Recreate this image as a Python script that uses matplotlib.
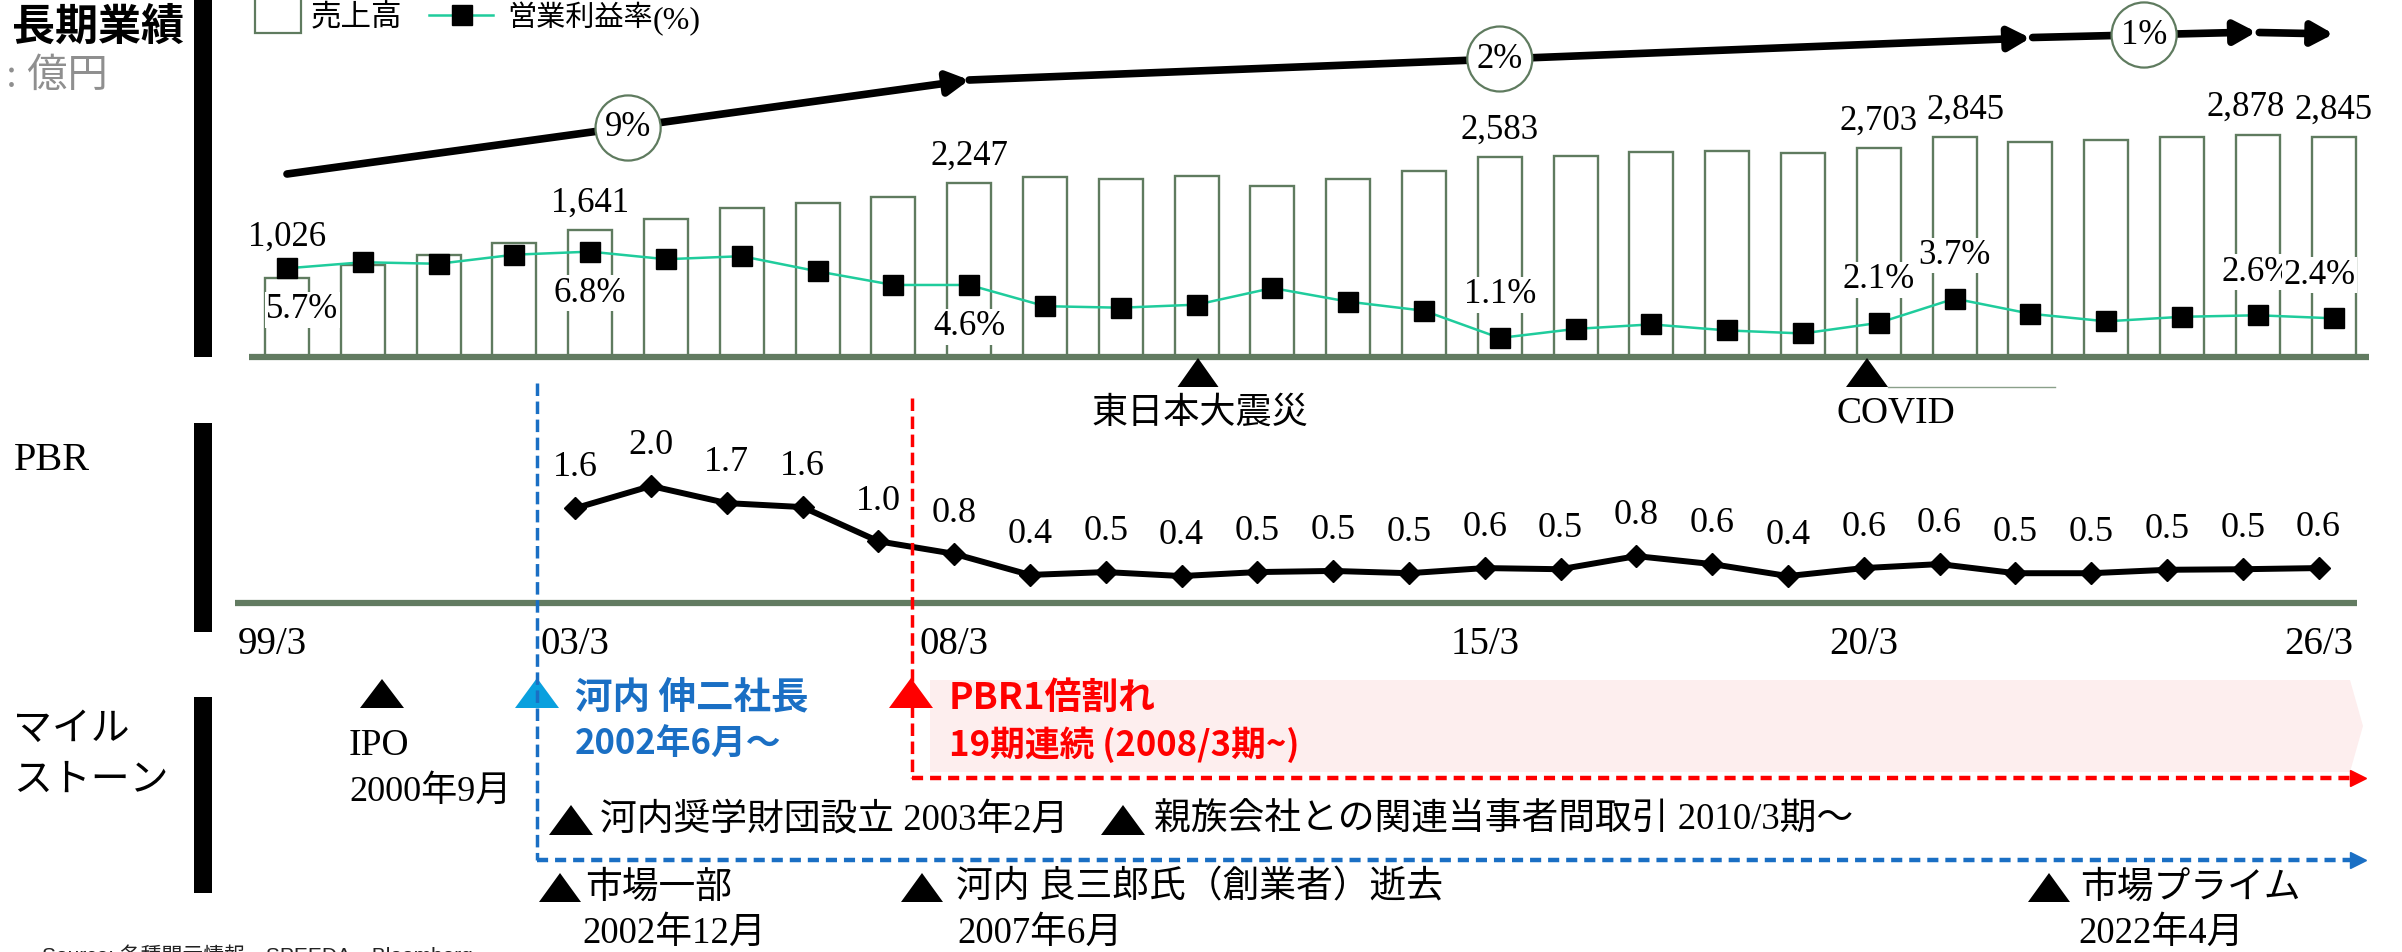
import matplotlib
matplotlib.use('Agg')
import matplotlib.pyplot as plt
from matplotlib.patches import Polygon, Rectangle
from matplotlib.transforms import blended_transform_factory
import numpy as np

plt.rcParams['lines.scale_dashes'] = False

# ---------------- data ----------------
years = list(range(1999, 2027))
sales = [1026, 1186, 1315, 1475, 1641, 1790, 1928, 1997, 2066, 2247,
         2325, 2307, 2338, 2213, 2299, 2407, 2583, 2596, 2652, 2670,
         2635, 2703, 2845, 2778, 2803, 2851, 2878, 2845]
margin = [5.7, 6.1, 6.0, 6.6, 6.8, 6.3, 6.5, 5.5, 4.6, 4.6,
          3.2, 3.1, 3.3, 4.4, 3.5, 2.9, 1.1, 1.7, 2.0, 1.6,
          1.4, 2.1, 3.7, 2.7, 2.2, 2.5, 2.6, 2.4]
sales_label_years = [1999, 2003, 2008, 2015, 2020, 2021, 2025, 2026]
margin_label_years = [1999, 2003, 2008, 2015, 2020, 2021, 2025, 2026]

pbr_years = list(range(2003, 2027))
pbr = [1.61, 2.0, 1.70, 1.63, 1.03, 0.81, 0.44, 0.49, 0.42, 0.49,
       0.51, 0.47, 0.56, 0.54, 0.77, 0.63, 0.42, 0.56, 0.63, 0.47,
       0.47, 0.53, 0.54, 0.56]

tick_years = [1999, 2003, 2008, 2015, 2020, 2026]
tick_labels = ['99/3', '03/3', '08/3', '15/3', '20/3', '26/3']

growth_labels = ['9%', '2%', '1%']

# ---------------- style ----------------
W, H = 2402, 952
SERIF = ['Liberation Serif', 'Noto Sans CJK JP']
CJK = ['Noto Sans CJK JP', 'DejaVu Sans']
SANS = ['Liberation Sans', 'Noto Sans CJK JP']
GREEN = '#627b61'
BAR_EDGE = '#5f7b5f'
TEAL = '#1fcc9c'
BLUE = '#1a6fc4'
BLUE_L = '#0aa0de'
RED = '#ff0000'

fig = plt.figure(figsize=(W / 100, H / 100), dpi=100)


def add_ax(x0, y0, x1, y1):
    a = fig.add_axes([x0 / W, 1 - y1 / H, (x1 - x0) / W, (y1 - y0) / H])
    a.axis('off')
    return a


# ---------------- top chart: sales bars + margin line ----------------
BAR_C0, STEP = 287, 75.8
ax = add_ax(249, 0, 2369, 357)
ax.set_xlim((249 - BAR_C0) / STEP, (2369 - BAR_C0) / STEP)
VAL_PER_PX = 12.94
ax.set_ylim(0, 357 * VAL_PER_PX)
xi = np.array(years) - years[0]
ax.bar(xi, sales, width=0.58, facecolor='white', edgecolor=BAR_EDGE, lw=1.7, zorder=1)
ax.plot([0, 1], [0, 0], transform=ax.transAxes, color=GREEN, lw=4.5,
        clip_on=False, zorder=3, solid_capstyle='butt')

sales_dx = {2021: 8, 2025: -9}
for yr in sales_label_years:
    i = years.index(yr)
    dy = 29 if yr == 1999 else 19.5
    ax.annotate(f'{sales[i]:,}', (xi[i], sales[i]), xytext=(sales_dx.get(yr, 0), dy),
                textcoords='offset points', ha='center', va='center',
                fontsize=25, family=SERIF, zorder=6)


def v(py):
    return (357 - py) * VAL_PER_PX


# growth arrows (decorative)
segs = [((0, 174), (9, 80)), ((9, 80), (23, 38)), ((23.03, 37.5), (25.98, 32)),
        ((26.02, 32.5), (27, 34))]
for (x0, y0), (x1, y1) in segs:
    ax.annotate('', xy=(x1, v(y1)), xytext=(x0, v(y0)),
                arrowprops=dict(arrowstyle='-|>,head_length=0.55,head_width=0.3',
                                lw=5.5, color='black', shrinkA=0, shrinkB=0,
                                mutation_scale=23), zorder=4)
for lab, (gx, gy) in zip(growth_labels, [(4.5, 128), (16, 59), (24.5, 35)]):
    ax.text(gx, v(gy), lab, ha='center', va='center', fontsize=25, family=SERIF,
            bbox=dict(boxstyle='circle,pad=0.27', fc='white', ec=BAR_EDGE, lw=1.6), zorder=5)

axm = ax.twinx()
axm.axis('off')
axm.set_ylim(-0.154, 23.41)
axm.plot(xi, margin, color=TEAL, lw=1.8, marker='s', ms=14, mfc='black', mec='black', zorder=3)
m_off = {1999: (11, -30), 2003: (0, -30), 2008: (0, -30), 2015: (0, 31),
         2020: (0, 31), 2021: (0, 31), 2025: (0, 31), 2026: (-10, 31)}
for yr in margin_label_years:
    i = years.index(yr)
    axm.annotate(f'{margin[i]:.1f}%', (xi[i], margin[i]), xytext=m_off[yr],
                 textcoords='offset points', ha='center', va='center',
                 fontsize=25, family=SERIF, zorder=6,
                 bbox=dict(fc='white', ec='none', pad=1))

# ---------------- PBR chart ----------------
PBR_C0 = 272
axp = add_ax(235, 380, 2357, 603)
axp.set_xlim((235 - PBR_C0) / STEP, (2357 - PBR_C0) / STEP)
axp.set_ylim(-3 / 57, 223 / 57 - 3 / 57)
axp.plot([0, 1], [0, 0], transform=axp.transAxes, color=GREEN, lw=4.5,
         clip_on=False, zorder=1, solid_capstyle='butt')
pxi = np.array(pbr_years) - years[0]
axp.plot(pxi, pbr, color='black', lw=4.3, marker='D', ms=11, zorder=3)
for xx, val in zip(pxi, pbr):
    axp.annotate(f'{val:.1f}', (xx, val), xytext=(0, 29), textcoords='offset points',
                 ha='center', va='center', fontsize=26, family=SERIF)
btr = blended_transform_factory(axp.transData, axp.transAxes)
for yr, lab in zip(tick_years, tick_labels):
    axp.text(yr - years[0], (603 - 644) / 223, lab, transform=btr, ha='center',
             va='center', fontsize=28, family=SERIF, clip_on=False)

# ---------------- overlay (pixel coords) ----------------
ov = add_ax(0, 0, W, H)
ov.set_xlim(0, W)
ov.set_ylim(H, 0)


def tri(cx, ybase, w, h, color):
    ov.add_patch(Polygon([[cx - w / 2, ybase], [cx + w / 2, ybase], [cx, ybase - h]],
                         closed=True, fc=color, ec='none', zorder=4))


# section headers
ov.text(12, 27, '長期業績', fontsize=31, family=CJK, weight='bold', va='center')
ov.text(6, 77, ': 億円', fontsize=29, family=SERIF, color='#8f8f8f', va='center')
ov.text(14, 461, 'PBR', fontsize=29, family=SERIF, va='center')
ov.text(13, 729, 'マイル', fontsize=28, family=CJK, va='center')
ov.text(13, 780, 'ストーン', fontsize=28, family=CJK, va='center')
for y0, y1 in [(0, 357), (423, 632), (697, 893)]:
    ov.add_patch(Rectangle((194, y0), 18, y1 - y0, fc='black', ec='none'))

# legend
ov.add_patch(Rectangle((255, -10), 46, 43, fc='white', ec=BAR_EDGE, lw=1.6))
ov.text(311, 18, '売上高', fontsize=22, family=CJK, va='center')
ov.plot([429, 493], [15, 15], color=TEAL, lw=1.8)
ov.plot([462], [15], marker='s', ms=14, color='black')
ov.text(507, 18, '営業利益率', fontsize=21, family=CJK, va='center')
ov.text(653, 21, '(%)', fontsize=23, family=SERIF, va='center')

# events
tri(1198, 387, 41, 29, 'black')
ov.text(1200, 413, '東日本大震災', fontsize=26, family=CJK, ha='center', va='center')
tri(1867, 387, 42, 29, 'black')
ov.plot([1888, 2055], [387, 387], color='#8aa08a', lw=1)
ov.text(1896, 413, 'COVID', fontsize=27, family=SERIF, ha='center', va='center')

# pink band
ov.add_patch(Polygon([[930, 680], [2350, 680], [2363, 726], [2350, 772], [930, 772]],
                     closed=True, fc='#fdeeee', ec='none', zorder=0))

# dashed guides
ov.plot([537, 537], [383, 860], color=BLUE, lw=2.5, dashes=(9, 4), zorder=5)
ov.plot([537, 2356], [860, 860], color=BLUE, lw=3.2, dashes=(8, 5), zorder=5)
ov.plot([2358], [860], marker='>', ms=12, color=BLUE, zorder=5)
ov.plot([912, 912], [398, 778], color=RED, lw=2.5, dashes=(9, 4), zorder=5)
ov.plot([912, 2356], [778, 778], color=RED, lw=3.2, dashes=(8, 5), zorder=5)
ov.plot([2358], [778], marker='>', ms=12, color=RED, zorder=5)

# milestones
tri(382, 708, 44, 29, 'black')
ov.text(349, 746, 'IPO', fontsize=27, family=SERIF, va='center')
ov.text(349, 792, '2000年9月', fontsize=26, family=SERIF, va='center')

tri(537, 708, 44, 30, BLUE_L)
ov.text(575, 697, '河内 伸二社長', fontsize=27, family=CJK, weight='bold', color=BLUE, va='center')
ov.text(575, 744, '2002年6月～', fontsize=25, family=CJK, weight='bold', color=BLUE, va='center')

tri(911, 708, 44, 30, RED)
ov.text(949, 698, 'PBR1倍割れ', fontsize=26.5, family=CJK, weight='bold', color=RED, va='center')
ov.text(949, 745, '19期連続 (2008/3期~)', fontsize=25, family=CJK, weight='bold', color=RED, va='center')

tri(571, 835, 44, 30, 'black')
ov.text(600, 820, '河内奨学財団設立 2003年2月', fontsize=26.5, family=SERIF, va='center')
tri(1123, 835, 44, 30, 'black')
ov.text(1154, 820, '親族会社との関連当事者間取引 2010/3期～', fontsize=26.5, family=SERIF, va='center')
tri(560, 902, 42, 29, 'black')
ov.text(585, 888, '市場一部', fontsize=26.5, family=SERIF, va='center')
tri(922, 902, 42, 29, 'black')
ov.text(956, 888, '河内 良三郎氏（創業者）逝去', fontsize=26.5, family=SERIF, va='center')
tri(2049, 902, 42, 29, 'black')
ov.text(2080, 888, '市場プライム', fontsize=26.5, family=SERIF, va='center')
ov.text(582, 933, '2002年12月', fontsize=26.5, family=SERIF, va='center')
ov.text(957, 933, '2007年6月', fontsize=26.5, family=SERIF, va='center')
ov.text(2078, 933, '2022年4月', fontsize=26.5, family=SERIF, va='center')

ov.text(42, 944, 'Source: 各種開示情報、SPEEDA、Bloomberg', fontsize=15, family=SANS,
        va='top', color='#222222')

fig.savefig('out.png', dpi=100)
